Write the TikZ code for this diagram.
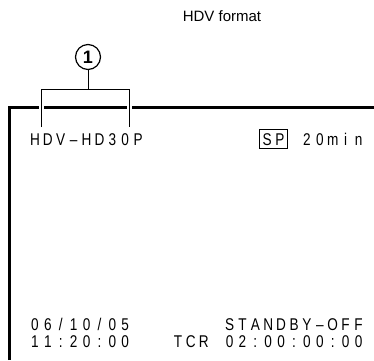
\documentclass[tikz,border=0pt]{standalone}
\usepackage{fontspec}
\setmainfont{Liberation Sans}
\newfontfamily\lcdfont[FakeStretch=0.8]{Liberation Sans}
\makeatletter
\newcommand\lcdpitch{12.9pt}
\def\lcd@loop#1{\ifx#1\@nil\else\makebox[\lcdpitch]{#1}\expandafter\lcd@loop\fi}
\newcommand\lcdtext[1]{{\lcdfont\fontsize{17}{17}\selectfont\lcd@loop#1\@nil}}
\makeatother
\tikzset{
  lcd/.style={inner sep=0pt, outer sep=0pt},
  border/.style={line width=3pt, line cap=butt},
  thin/.style={line width=1pt},
}
\begin{document}
\begin{tikzpicture}[x=1pt,y=-1pt]
\useasboundingbox (0,0) rectangle (374,360);
% title
\node[lcd, font=\fontsize{15}{15}\selectfont] (title) at (222,16) {HDV format};
% border
\coordinate (bl) at (9,360);
\coordinate (tl) at (9,107);
\coordinate (tr) at (374,107);
\draw[border] (bl) -- (tl) -- (tr);
% callout
\node[draw, circle, line width=1.2pt, minimum size=25pt, inner sep=0pt,
      font=\bfseries\fontsize{18}{18}\selectfont] (c1) at (88,57) {1};
\coordinate (bm) at (88,89);
\coordinate (b1) at (41,89);
\coordinate (b2) at (129,89);
\coordinate (l1) at (41,127);
\coordinate (l2) at (129,127);
\draw[white, line width=5pt] (41,103) -- (41,111) (129,103) -- (129,111);
\draw[thin] (c1.south) -- (bm);
\draw[thin] (l1) -- (b1) -- (b2) -- (l2);
% texts
\node[lcd, anchor=base west] (mode) at (28.5,145) {\lcdtext{HDV–HD30P}};
\node[draw, line width=1.6pt, minimum width=28pt, minimum height=19pt, inner sep=0pt,
      anchor=base] (sp) at (273.5,145) {\lcdtext{SP}};
\node[lcd, anchor=base east] (rem) at (365,145) {\lcdtext{20min}};
\node[lcd, anchor=base west] (date) at (28.5,330) {\lcdtext{06/10/05}};
\node[lcd, anchor=base west] (time) at (28.5,347.5) {\lcdtext{11:20:00}};
\node[lcd, anchor=base east] (stby) at (365,330) {\lcdtext{STANDBY–OFF}};
\node[lcd, anchor=base east] (tcr) at (365,347.5) {\lcdtext{TCR~02:00:00:00}};
\end{tikzpicture}
\end{document}
